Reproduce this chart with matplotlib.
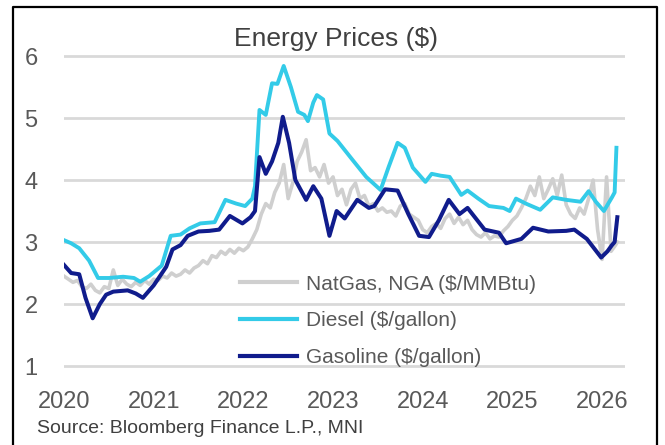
import matplotlib
matplotlib.use("Agg")
from matplotlib import pyplot as plt
from matplotlib.lines import Line2D

plt.rcParams['font.family'] = ['Liberation Sans', 'DejaVu Sans']

# decimal years / values
natgas_x = [2020.00, 2020.05, 2020.10, 2020.15, 2020.20, 2020.25, 2020.30, 2020.35, 2020.40, 2020.45,
            2020.50, 2020.55, 2020.60, 2020.65, 2020.70, 2020.75, 2020.80, 2020.85, 2020.90, 2020.95,
            2021.00, 2021.05, 2021.10, 2021.15, 2021.20, 2021.25, 2021.30, 2021.35, 2021.40, 2021.45,
            2021.50, 2021.55, 2021.60, 2021.65, 2021.70, 2021.75, 2021.80, 2021.85, 2021.90, 2021.95,
            2022.00, 2022.05, 2022.10, 2022.15, 2022.20, 2022.25, 2022.30, 2022.35, 2022.40, 2022.45,
            2022.50, 2022.55, 2022.60, 2022.65, 2022.70, 2022.75, 2022.80, 2022.85, 2022.90, 2022.95,
            2023.00, 2023.05, 2023.10, 2023.15, 2023.20, 2023.25, 2023.30, 2023.35, 2023.40, 2023.45,
            2023.50, 2023.55, 2023.60, 2023.65, 2023.70, 2023.75, 2023.80, 2023.85, 2023.90, 2023.95,
            2024.00, 2024.05, 2024.10, 2024.15, 2024.20, 2024.25, 2024.30, 2024.35, 2024.40, 2024.45,
            2024.50, 2024.55, 2024.60, 2024.65, 2024.70, 2024.75, 2024.80, 2024.85, 2024.90, 2024.95,
            2025.00, 2025.05, 2025.10, 2025.15, 2025.20, 2025.25, 2025.30, 2025.35, 2025.40, 2025.45,
            2025.50, 2025.55, 2025.60, 2025.65, 2025.70, 2025.75, 2025.80, 2025.85, 2025.90, 2025.95,
            2026.00, 2026.05, 2026.10, 2026.15, 2026.17]
natgas = [2.45, 2.40, 2.35, 2.38, 2.28, 2.25, 2.32, 2.22, 2.18, 2.28,
          2.25, 2.55, 2.30, 2.40, 2.32, 2.28, 2.35, 2.30, 2.38, 2.32,
          2.40, 2.38, 2.45, 2.42, 2.50, 2.45, 2.48, 2.55, 2.50, 2.58,
          2.62, 2.70, 2.65, 2.78, 2.75, 2.85, 2.80, 2.88, 2.82, 2.90,
          2.86, 2.92, 3.05, 3.20, 3.45, 3.62, 3.55, 3.80, 3.95, 4.25,
          3.70, 3.95, 4.30, 4.45, 4.65, 4.15, 4.20, 4.05, 4.25, 3.95,
          4.05, 3.75, 3.85, 3.60, 3.85, 3.95, 3.70, 3.75, 3.58, 3.62,
          3.50, 3.55, 3.48, 3.50, 3.42, 3.58, 3.62, 3.45, 3.40, 3.35,
          3.20, 3.15, 3.25, 3.30, 3.22, 3.38, 3.45, 3.30, 3.40, 3.28,
          3.35, 3.20, 3.12, 3.08, 3.15, 3.05, 3.10, 3.08, 3.18, 3.25,
          3.35, 3.42, 3.55, 3.70, 3.90, 3.75, 4.05, 3.70, 3.85, 4.02,
          3.75, 4.08, 3.60, 3.45, 3.38, 3.55, 3.45, 3.70, 4.00, 3.20,
          2.72, 4.05, 2.85, 2.95, 3.00]

diesel_x = [2020.00, 2020.08, 2020.17, 2020.28, 2020.38, 2020.50, 2020.66, 2020.78, 2020.85, 2020.95,
            2021.09, 2021.19, 2021.30, 2021.40, 2021.52, 2021.68, 2021.80, 2021.92, 2022.02, 2022.10,
            2022.13, 2022.18, 2022.25, 2022.32, 2022.38, 2022.45, 2022.53, 2022.61, 2022.68, 2022.72,
            2022.78, 2022.82, 2022.89, 2022.96, 2023.05, 2023.22, 2023.37, 2023.53, 2023.62, 2023.72,
            2023.80, 2023.89, 2024.03, 2024.10, 2024.20, 2024.30, 2024.43, 2024.50, 2024.62, 2024.74,
            2024.90, 2024.97, 2025.04, 2025.15, 2025.31, 2025.45, 2025.60, 2025.76, 2025.85, 2025.93,
            2026.02, 2026.11, 2026.14, 2026.16]
diesel = [3.03, 2.98, 2.90, 2.70, 2.42, 2.42, 2.44, 2.42, 2.36, 2.45,
          2.62, 3.10, 3.12, 3.22, 3.30, 3.32, 3.68, 3.62, 3.58, 3.70,
          3.90, 5.13, 5.05, 5.56, 5.55, 5.84, 5.50, 5.10, 5.05, 4.95,
          5.25, 5.37, 5.30, 4.75, 4.63, 4.32, 4.05, 3.84, 4.21, 4.60,
          4.52, 4.20, 3.97, 4.10, 4.07, 4.05, 3.76, 3.83, 3.70, 3.58,
          3.55, 3.50, 3.70, 3.62, 3.52, 3.72, 3.68, 3.65, 3.82, 3.65,
          3.50, 3.72, 3.80, 4.52]

gasoline_x = [2020.00, 2020.08, 2020.17, 2020.24, 2020.32, 2020.40, 2020.47, 2020.55, 2020.71, 2020.80,
              2020.88, 2021.00, 2021.14, 2021.21, 2021.30, 2021.38, 2021.50, 2021.62, 2021.73, 2021.85,
              2021.99, 2022.08, 2022.13, 2022.18, 2022.25, 2022.32, 2022.39, 2022.44, 2022.51, 2022.58,
              2022.70, 2022.78, 2022.87, 2022.96, 2023.04, 2023.13, 2023.27, 2023.40, 2023.46, 2023.58,
              2023.72, 2023.84, 2023.96, 2024.07, 2024.18, 2024.29, 2024.41, 2024.50, 2024.69, 2024.85,
              2024.93, 2025.10, 2025.23, 2025.40, 2025.60, 2025.69, 2025.83, 2025.99, 2026.06, 2026.11,
              2026.14, 2026.17]
gasoline = [2.63, 2.50, 2.48, 2.10, 1.77, 2.00, 2.15, 2.20, 2.22, 2.17,
            2.10, 2.30, 2.60, 2.88, 2.95, 3.10, 3.17, 3.18, 3.20, 3.42,
            3.30, 3.40, 3.50, 4.37, 4.10, 4.30, 4.60, 5.02, 4.60, 4.00,
            3.68, 3.90, 3.70, 3.10, 3.50, 3.38, 3.68, 3.55, 3.58, 3.85,
            3.83, 3.45, 3.10, 3.08, 3.35, 3.68, 3.45, 3.55, 3.20, 3.15,
            2.98, 3.05, 3.23, 3.17, 3.18, 3.20, 3.05, 2.75, 2.85, 2.95,
            3.00, 3.40]

labels = ['NatGas, NGA ($/MMBtu)', 'Diesel ($/gallon)', 'Gasoline ($/gallon)']
colors = ['#cfcfcf', '#33cbe8', '#101c8c']
year_ticks = [2020, 2021, 2022, 2023, 2024, 2025, 2026]
value_ticks = [1, 2, 3, 4, 5, 6]

fig = plt.figure(figsize=(6.65, 4.45), dpi=100)
ax = fig.add_axes([0.0962, 0.1733, 0.8429, 0.705])

ax.plot(natgas_x, natgas, color=colors[0], lw=2.6, zorder=2)
ax.plot(diesel_x, diesel, color=colors[1], lw=2.8, zorder=3)
ax.plot(gasoline_x, gasoline, color=colors[2], lw=2.9, zorder=4)

ax.set_xlim(2020, 2026.25)
ax.set_ylim(0.97, 6.03)
ax.set_xticks(year_ticks)
ax.set_yticks(value_ticks)
ax.set_xticklabels([str(y) for y in year_ticks])
ax.tick_params(length=0, labelsize=17, labelcolor='#595959')
ax.tick_params(axis='x', pad=17)
ax.tick_params(axis='y', pad=19)
ax.grid(axis='y', color='#d9d9d9', lw=2)
ax.set_axisbelow(True)
for s in ax.spines.values():
    s.set_visible(False)

handles = [Line2D([], [], color=c, lw=3) for c in colors]
fig.legend(handles, labels, loc='upper left', bbox_to_anchor=(0.361, 0.383),
           frameon=False, fontsize=15, labelcolor='#595959', handlelength=2.75,
           handletextpad=0.4, labelspacing=0.85, borderaxespad=0, borderpad=0)

fig.text(0.506, 0.912, 'Energy Prices ($)', ha='center', va='center',
         fontsize=19, color='#404040')
fig.text(0.056, 0.038, 'Source: Bloomberg Finance L.P., MNI', ha='left', va='center',
         fontsize=14, color='#404040')

# outer frame (left, top, right)
fig.add_artist(Line2D([0.019, 0.019, 0.988, 0.988], [0.0, 0.985, 0.985, 0.0],
                      color='black', lw=1.6, transform=fig.transFigure))

fig.savefig('out.png', dpi=100)
